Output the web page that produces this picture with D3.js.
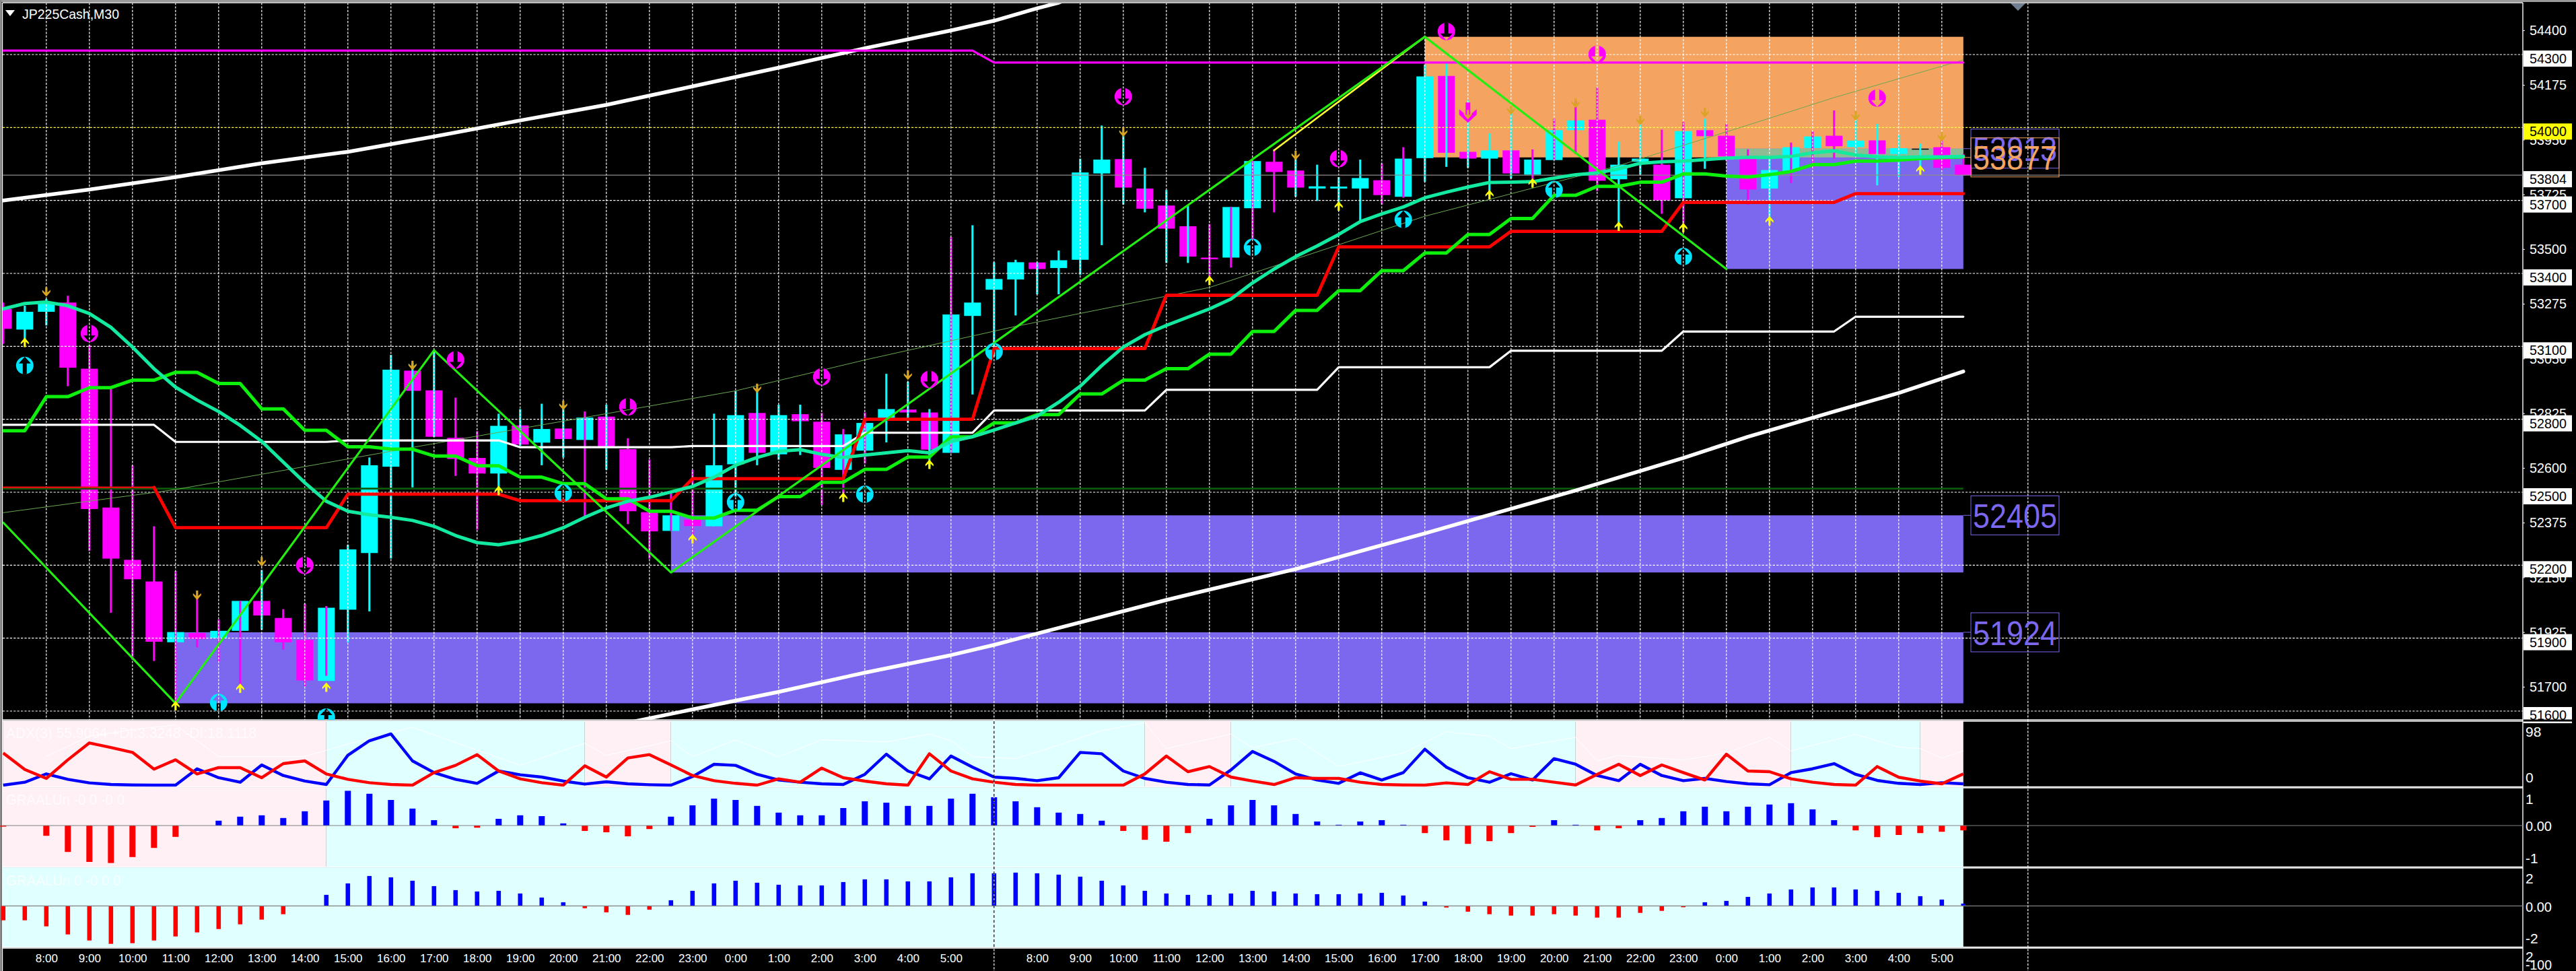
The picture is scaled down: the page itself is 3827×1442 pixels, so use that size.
<!DOCTYPE html>
<html>
<head>
<meta charset="utf-8">
<title>JP225Cash,M30</title>
<script src="https://cdn.jsdelivr.net/npm/d3@7"></script>
<style>
html,body{margin:0;padding:0;background:#000;overflow:hidden}
svg{display:block}
text{font-family:"Liberation Sans",Arial,sans-serif}
</style>
</head>
<body>
<script>
// ---------- data ----------
const opens=[53254,53169,53242,53280,53008,52437,52222,52133,51883,51921,51900,51930,52053,51983,51893,51724,52017,52250,52605,53000,52919,52724,52641,52577,52775,52704,52762,52715,52811,52677,52418,52341,52388,52360,52615,52826,52656,52821,52790,52592,52671,52804,52840,52828,52662,53225,53333,53375,53445,53422,53456,53811,53870,53749,53679,53594,53465,53465,53668,53859,53823,53749,53749,53749,53783,53715,53874,54212,53900,53872,53906,53806,53866,53989,54032,53787,53859,53847,53709,53989,53966,53872,53749,53821,53915,53966,53919,53947,53891,53913,53919,53847];
const highs=[53280,53267,53295,53308,53106,52927,52611,52360,52176,52066,51976,52053,52180,52019,52042,52032,52284,52643,53065,53031,53083,52889,52751,52823,52842,52864,52860,52832,52860,52722,52634,52505,52592,52823,52917,52917,52860,52860,52826,52760,52828,52987,52955,52842,53550,53598,53446,53456,53446,53494,53872,54008,53966,53834,53743,53679,53603,53673,53862,53910,53872,53847,53796,53868,53853,53919,54259,54269,54112,53976,54080,53910,54036,54108,54165,53942,54014,53991,54023,54036,54015,53910,53881,53938,53985,54070,54051,54015,53970,53934,53947,53891];
const lows=[53110,53125,53186,52936,52259,52004,51811,51806,51632,51862,51802,51707,51934,51853,51702,51745,51883,52010,52227,52520,52728,52567,52346,52501,52690,52611,52643,52397,52592,52369,52227,52341,52293,52360,52482,52611,52634,52653,52448,52492,52618,52705,52785,52605,52662,52902,53059,53227,53314,53314,53394,53516,53683,53651,53443,53443,53380,53424,53541,53651,53715,53698,53683,53617,53683,53711,53777,53838,53834,53721,53790,53758,53866,53891,53739,53588,53806,53645,53588,53830,53862,53683,53617,53772,53830,53872,53881,53762,53796,53825,53825,53802];
const closes=[53172,53242,53276,53012,52431,52227,52142,51885,51925,51896,51930,52053,51993,51883,51726,52025,52265,52611,53004,52917,52728,52637,52577,52773,52696,52760,52719,52807,52687,52422,52339,52405,52361,52611,52817,52662,52817,52792,52600,52738,52785,52842,52828,52675,53231,53280,53377,53446,53418,53454,53815,53868,53753,53666,53584,53469,53458,53673,53862,53817,53753,53758,53757,53792,53722,53872,54210,53896,53872,53906,53811,53868,53989,54029,53781,53847,53872,53700,53985,53964,53881,53745,53825,53919,53963,53923,53946,53891,53915,53913,53834,53804];
const wickTones="mccmmmmmmmmmcmmmcccccmmcccc"+"mcmmmmccccc"+"mmmcccmcccccccccccmmmmcccc"+"mmccc"+"ccmmmmccmmcmmcmmmcccc"+"mmmmm";
const wickKeys=[...wickTones];

const tealMA=[53254,53276,53282,53267,53235,53178,53097,53008,52932,52879,52832,52775,52709,52624,52539,52463,52422,52407,52397,52384,52360,52322,52293,52284,52299,52322,52354,52397,52435,52463,52479,52501,52524,52562,52611,52643,52668,52675,52656,52643,52653,52662,52671,52662,52709,52728,52756,52785,52813,52870,52936,53021,53097,53148,53186,53220,53254,53295,53361,53418,53469,53513,53560,53613,53645,53673,53711,53734,53755,53774,53775,53777,53792,53806,53813,53830,53853,53859,53862,53868,53874,53877,53877,53881,53896,53904,53887,53879,53877,53879,53879,53881];
const greenSteps=[52753,52753,52893,52893,52930,52930,52961,52961,52993,52993,52947,52947,52843,52843,52755,52755,52687,52687,52677,52677,52649,52649,52609,52609,52562,52562,52535,52535,52473,52473,52422,52422,52394,52394,52426,52426,52482,52482,52541,52541,52594,52594,52645,52645,52728,52728,52785,52785,52819,52819,52904,52904,52961,52961,53008,53008,53068,53068,53161,53161,53248,53248,53329,53329,53411,53411,53484,53484,53560,53560,53626,53626,53721,53721,53758,53758,53775,53775,53809,53809,53800,53796,53806,53819,53847,53847,53862,53862,53866,53872,53876,53879];

const stepStarts=[0,8,16,24,32,40,46,54,62,70,78,86];
const stepEnds=[7,15,23,31,39,45,53,61,69,77,85,91];
const redLevels=[52520,52354,52492,52465,52556,52800,53091,53310,53509,53573,53692,53728];
const whiteLevels=[52777,52707,52713,52685,52690,52745,52836,52921,53014,53082,53161,53222];

const upperBandIdx=[0,4,8,12,16,20,24,28,32,36,40,44,46,48,49,50];
const upperBandVal=[53700,53745,53796,53853,53900,53963,54029,54093,54169,54246,54326,54399,54439,54490,54513,54550];
const lowerBandIdx=[29,32,36,40,44,46,48,54,60,66,69,73,78,81,85,88,91];
const lowerBandVal=[51552,51607,51679,51758,51830,51872,51919,52057,52184,52331,52407,52507,52641,52728,52832,52908,52997];
const magentaIdx=[0,45,46,91];
const magentaVal=[54316,54316,54267,54267];
const zigzagIdx=[0,8,20,31,66,80];
const zigzagVal=[52375,51632,53084,52170,54373,53418];
const yellowIdx=[59,66];
const yellowVal=[53906,54373];
const trendIdx=[0,8,20,28,34,40,47,56,66,75,81,85,91];
const trendVal=[52416,52511,52700,52823,52917,53044,53182,53342,53635,53843,54010,54123,54278];
const darkGreenLevel=52515;
const bidPrice=53804;

// zones: start bar, top price, bottom price, colour
const zoneStart=[8,31,66,80];
const zoneTop=[51924,52405,54373,53913];
const zoneBottom=[51632,52170,53877,53418];
const zoneColor=["#7b68ee","#7b68ee","#f4a460","#7b68ee"];
const zoneLabels=[51924,52405,53913,53877];
const zoneLabelColor=["#7b68ee","#7b68ee","#7b68ee","#f4a460"];

const orangeIdx=[2,9,12,19,26,35,42,52,60,68,70,73,76,79,86,90];
const orangeVal=[53324,52076,52214,53021,52857,52927,52981,53981,53885,54053,54072,54100,54029,54061,54048,53963];
const yellowUpIdx=[1,8,11,15,23,32,39,43,56,62,69,71,75,78,82,89];
const yellowUpVal=[53116,51622,51694,51698,52507,52308,52479,52615,53371,53677,53724,53772,53594,53588,53617,53825];
const cyanRingIdx=[1,10,15,26,34,40,46,58,65,72,78];
const cyanRingVal=[53021,51635,51575,52497,52460,52492,53078,53507,53622,53745,53469];
const magentaRingIdx=[4,14,21,29,38,43,52,62,67,74,87];
const magentaRingVal=[53153,52199,53044,52851,52974,52964,54127,53872,54395,54301,54121];
const bigDownIdx=[68];
const bigDownVal=[54061];

const plusDI=[0,4.5,17.4,9,3.5,1,.3,0,0,25.3,11.5,4.5,31.2,14.9,6.3,1,46.2,68.7,79.2,37.5,19.4,9,2.8,21.9,16,12.5,6.3,1.7,5.2,2.1,.7,0,13.2,32.3,30.6,16.7,8,4.5,2.1,1,16.7,47.9,21.9,9.7,45.1,27.8,12.5,10.4,6.9,11.5,50.7,48.6,21.9,10.4,4.5,1,.3,23.6,52.1,36.8,17.4,8,2.8,19.1,8,19.4,55.6,27.8,11.5,4.5,17.7,8,41,32.3,14.9,6.9,32.3,14.9,6.9,10.4,5.6,2.1,.7,19.4,25.3,33.3,16.7,7.3,2.8,1,3.8,2.1];
const minusDI=[49.7,24.3,10.4,39.2,65.3,58.3,50.7,24.7,39.2,17.4,27.1,27.1,11.5,33.3,37.5,17.4,9,3.8,1,0,19.4,30.6,47.2,21.9,9.7,3.8,0,29.9,12.5,42,47.2,31.2,14.9,6.9,2.8,0,9.7,4.5,26.4,11.5,6.3,2.1,0,48.6,21.9,9.7,4.5,1,0,0,0,0,0,17.4,45.1,20.8,28.8,12.5,6.3,1,11.5,10.4,10.4,4.5,1,.3,0,3.5,1,20.8,9,9,4.5,.3,16.7,32.3,14.9,31.2,19.4,8,47.9,21.9,20.8,9.7,4.5,1,0,28.8,12.2,6.3,2.1,17.4];
const adxIdx=[2,4,6,8,10,13,14,16,19,24,27,28,31,32,34,36,38,41,43,44,45,47,49,51,53,54,57,58,60,62,65,67,69,70,73,74,75,78,80,82,83,86,88,89,90,91];
const adxVal=[44.4,75.7,86,93,44.4,44.4,44.4,63.5,89.6,30.6,65,46,68.7,44,70,44,70,67,79,68.7,44,41,61.8,84.4,96.5,56.6,79,58,72,29,49.7,82.6,75.7,56.6,74,37.5,46,39,49.7,74,53,78.5,59,56.6,41.7,53];

const graalA=[-.04,0,-.38,-.98,-1.35,-1.39,-1.17,-.83,-.42,0,.18,.33,.38,.28,.53,.93,1.29,1.18,.95,.63,.2,-.1,-.08,.25,.38,.35,.08,-.2,-.25,-.4,-.13,.33,.75,1,.95,.73,.48,.38,.38,.65,.9,.85,.73,.73,1,1.18,1.05,.9,.68,.48,.43,.18,-.2,-.53,-.6,-.28,.25,.75,.95,.75,.43,.15,.03,.15,.2,.03,-.28,-.55,-.68,-.58,-.28,-.05,.2,.03,-.18,-.1,.2,.28,.53,.7,.53,.7,.78,.83,.6,.2,-.18,-.43,-.35,-.28,-.23,-.18];
const graalB=[-1.07,-1.07,-1.52,-2.12,-2.57,-2.82,-2.77,-2.57,-2.27,-1.97,-1.72,-1.37,-1.02,-.62,0,.82,1.67,2.22,2.12,1.87,1.47,1.17,1.07,1.12,.92,.62,.27,-.17,-.48,-.67,-.28,.42,1.12,1.67,1.87,1.72,1.57,1.52,1.52,1.77,1.97,1.97,1.82,1.82,2.12,2.42,2.42,2.47,2.42,2.32,2.17,1.87,1.52,1.12,.92,.82,.82,.92,1.12,1.07,.92,.87,.87,.92,.97,.77,.32,-.12,-.43,-.62,-.72,-.72,-.62,-.72,-.87,-.87,-.52,-.37,-.1,.27,.37,.67,.92,1.22,1.37,1.37,1.22,1.12,.97,.72,.47,.17];

const adxBandStart=[0,15,27,31,53,57,73,83,89];
const adxBandEnd=[15,27,31,53,57,73,83,89,91];
const adxBandKind=["p","c","p","c","p","c","p","c","p"];

const gridPrices=[54300,54000,53700,53400,53100,52800,52500,52200,51900,51600];
const plainPrices=[54400,54175,53950,53725,53500,53275,53050,52825,52600,52375,52150,51925,51700];
const boxedPrices=[54300,54000,53804,53700,53400,53100,52800,52500,52200,51900,51600];

const hourBars=[2,4,6,8,10,12,14,16,18,20,22,24,26,28,30,32,34,36,38,40,42,44,48,50,52,54,56,58,60,62,64,66,68,70,72,74,76,78,80,82,84,86,88,90];
const hourLabels=["8:00","9:00","10:00","11:00","12:00","13:00","14:00","15:00","16:00","17:00","18:00","19:00","20:00","21:00","22:00","23:00","0:00","1:00","2:00","3:00","4:00","5:00","8:00","9:00","10:00","11:00","12:00","13:00","14:00","15:00","16:00","17:00","18:00","19:00","20:00","21:00","22:00","23:00","0:00","1:00","2:00","3:00","4:00","5:00"];
const gridBars=[...d3.range(2,91,2),94];
const separatorBars=[46,94];

// ---------- layout ----------
const W=3827,H=1442,L=4,R=3748,T=4;
const MAIN_B=1069, P2_T=1071,P2_B=1168.5, P3_T=1170,P3_B=1287.5, P4_T=1289,P4_B=1406.5, AX_T=1408;
const CYAN="#00ffff",MAG="#ff00ff",BG_P="#fff0f5",BG_C="#e0ffff",BAR_R="#ff0000",BAR_B="#0000ff";

const x=d3.scaleLinear().domain([0,91]).range([4.8,2916.8]);
const y=d3.scaleLinear().domain([54300,51600]).range([81,1056]);
const yDI=d3.scaleLinear().domain([0,100]).range([1166,1070]);
const yA=d3.scaleLinear().domain([0,1]).range([1226,1186]);
const yB=d3.scaleLinear().domain([0,2]).range([1345.3,1305.3]);
const dataEnd=x(91);

const svg=d3.select("body").append("svg").attr("width",W).attr("height",H).attr("viewBox",`0 0 ${W} ${H}`);
svg.append("rect").attr("width",W).attr("height",H).attr("fill","#000");
const defs=svg.append("defs");
defs.append("clipPath").attr("id","mainClip").append("rect").attr("x",L).attr("y",T+1).attr("width",R-L).attr("height",MAIN_B-T-1);
defs.append("clipPath").attr("id","p2Clip").append("rect").attr("x",L).attr("y",P2_T).attr("width",R-L).attr("height",P2_B-P2_T);

// chrome
svg.append("rect").attr("x",0).attr("y",0).attr("width",W).attr("height",3).attr("fill","#9a9a9a");
svg.append("rect").attr("x",0).attr("y",0).attr("width",2.5).attr("height",H).attr("fill","#8a8a8a");
const chrome=svg.append("g").attr("stroke","#fff").attr("stroke-width",1.4);
[T,MAIN_B,P2_T,P2_B,P3_T,P3_B,P4_T,P4_B,AX_T].forEach(v=>chrome.append("line").attr("x1",L).attr("x2",R).attr("y1",v).attr("y2",v));
chrome.append("line").attr("x1",R).attr("x2",R).attr("y1",T).attr("y2",H);
chrome.append("line").attr("x1",L-.5).attr("x2",L-.5).attr("y1",T).attr("y2",H);

// main pane
const main=svg.append("g").attr("clip-path","url(#mainClip)");

// zones
zoneStart.forEach((s,i)=>{
  main.append("rect").attr("x",x(s)).attr("width",dataEnd-x(s))
    .attr("y",y(zoneTop[i])).attr("height",y(zoneBottom[i])-y(zoneTop[i])).attr("fill",zoneColor[i]);
});
// overlap of the orange and the upper violet zone
main.append("rect").attr("x",x(80)).attr("width",dataEnd-x(80)).attr("y",y(53913)).attr("height",y(53877)-y(53913)).attr("fill","#8dbb93");

// candles
const bars=d3.range(opens.length);
const bodyColor=i=>closes[i]>opens[i]?CYAN:closes[i]<opens[i]?MAG:"#000";
main.append("g").selectAll("rect").data(bars).join("rect")
  .attr("x",i=>x(i)-12.5).attr("width",25)
  .attr("y",i=>y(Math.max(opens[i],closes[i])))
  .attr("height",i=>Math.max(1.5,Math.abs(y(opens[i])-y(closes[i]))))
  .attr("fill",bodyColor);
main.append("g").selectAll("line").data(bars).join("line")
  .attr("x1",i=>x(i)).attr("x2",i=>x(i)).attr("y1",i=>y(highs[i])).attr("y2",i=>y(lows[i]))
  .attr("stroke",i=>wickKeys[i]==="c"?CYAN:MAG).attr("stroke-width",3.2);

// grid
const grid=main.append("g");
grid.selectAll("line.h").data(gridPrices).join("line").attr("class","h")
  .attr("x1",L).attr("x2",R).attr("y1",d=>y(d)).attr("y2",d=>y(d))
  .attr("stroke",d=>d===54000?"#ffff44":"#fff").attr("stroke-width",1.2).attr("stroke-dasharray","3.2 2.2");
grid.selectAll("line.v").data(gridBars).join("line").attr("class","v")
  .attr("x1",d=>x(d)).attr("x2",d=>x(d)).attr("y1",T).attr("y2",MAIN_B)
  .attr("stroke","#fff").attr("stroke-width",1.2).attr("stroke-dasharray","3.2 2.2");
grid.append("line").attr("x1",L).attr("x2",R).attr("y1",y(bidPrice)).attr("y2",y(bidPrice)).attr("stroke","#8c8c8c").attr("stroke-width",1.2);
grid.append("line").attr("x1",L).attr("x2",dataEnd).attr("y1",y(darkGreenLevel)).attr("y2",y(darkGreenLevel)).attr("stroke","#0b5a0b").attr("stroke-width",2.6);

// lines
const priceLine=d3.line().x(d=>x(d[0])).y(d=>y(d[1]));
const zipped=(ix,vs)=>ix.map((k,i)=>[k,vs[i]]);
const stepped=lv=>lv.flatMap((v,i)=>[[stepStarts[i],v],[stepEnds[i],v]]);
function draw(pts,color,w){
  main.append("path").attr("d",priceLine(pts)).attr("fill","none").attr("stroke",color)
    .attr("stroke-width",w).attr("stroke-linejoin","round").attr("stroke-linecap","round");
}
draw(zipped(trendIdx,trendVal),"#6aa84f",1);
draw(zipped(upperBandIdx,upperBandVal),"#fff",5.5);
draw(zipped(lowerBandIdx,lowerBandVal),"#fff",5.5);
draw(zipped(magentaIdx,magentaVal),MAG,3.2);
draw(stepped(whiteLevels),"#fff",3.2);
draw(stepped(redLevels).slice(0,2),"#e01010",2.4);
draw(stepped(redLevels).slice(1),"#ff0000",4.8);
draw(greenSteps.map((v,i)=>[i,v]),"#0cf00c",5);
draw(tealMA.map((v,i)=>[i,v]),"#12eaa0",5);
draw(zipped(yellowIdx,yellowVal),"#ffff33",2.6);
draw(zipped(zigzagIdx,zigzagVal),"#22ee11",3.2);

// markers
const upArrow="M0,-7 L6,0 L6,3 L1.6,-1 L1.6,7 L-1.6,7 L-1.6,-1 L-6,3 L-6,0 Z";
const downArrow="M0,7 L6,0 L6,-3 L1.6,1 L1.6,-7 L-1.6,-7 L-1.6,1 L-6,-3 L-6,0 Z";
const disc="M-13,0 A13,13 0 1,1 13,0 A13,13 0 1,1 -13,0 Z ";
const ringDown=disc+"M-3,-13 L3,-13 L3,3 L9,3 L0,13 L-9,3 L-3,3 Z";
const ringUp=disc+"M-3,13 L3,13 L3,-3 L9,-3 L0,-13 L-9,-3 L-3,-3 Z";
const bigDown="M-3.5,-15 H3.5 V3 L13,-5 V3 L0,15 L-13,3 V-5 L-3.5,3 Z";
function marks(ix,vs,path,color){
  main.append("g").selectAll("path").data(ix.map((k,i)=>[k,vs[i]])).join("path")
    .attr("d",path).attr("fill",color).attr("fill-rule","evenodd")
    .attr("transform",d=>`translate(${x(d[0])},${y(d[1])})`);
}
marks(bigDownIdx,bigDownVal,bigDown,MAG);
marks(orangeIdx,orangeVal,downArrow,"#daa520");
marks(yellowUpIdx,yellowUpVal,upArrow,"#ffff00");
marks(cyanRingIdx,cyanRingVal,ringUp,"#00e5ff");
marks(magentaRingIdx,magentaRingVal,ringDown,MAG);

// zone labels
zoneLabels.forEach((v,i)=>{
  const c=y(v), col=zoneLabelColor[i];
  svg.append("line").attr("x1",dataEnd).attr("x2",2928).attr("y1",c).attr("y2",c).attr("stroke",col).attr("stroke-width",1);
  svg.append("rect").attr("x",2928).attr("y",c-29).attr("width",131).attr("height",58).attr("fill","none").attr("stroke",col).attr("stroke-width",1);
  svg.append("text").attr("x",2931).attr("y",c+18.5).attr("font-size",50).attr("fill",col)
    .attr("textLength",125).attr("lengthAdjust","spacingAndGlyphs").text(v);
});

// title
svg.append("path").attr("d",d3.line()([[8,15],[22,15],[15,24]])+"Z").attr("fill","#fff");
svg.append("text").attr("x",33).attr("y",27.5).attr("font-size",21).attr("fill","#fff")
  .attr("textLength",144).attr("lengthAdjust","spacingAndGlyphs").text("JP225Cash,M30");
svg.append("path").attr("d",d3.line()([[2987,5],[3009,5],[2998,16]])+"Z").attr("fill","#708090");

// lower pane backgrounds
adxBandStart.forEach((s,i)=>{
  svg.append("rect").attr("x",x(s)).attr("width",x(adxBandEnd[i])-x(s)).attr("y",P2_T-.7).attr("height",P2_B-P2_T+.4)
    .attr("fill",adxBandKind[i]==="p"?BG_P:BG_C);
});
svg.append("rect").attr("x",L).attr("width",x(0)-L).attr("y",P2_T-.7).attr("height",P2_B-P2_T+.4).attr("fill",BG_P);
svg.append("rect").attr("x",L).attr("width",x(15)-L).attr("y",P3_T-.7).attr("height",P3_B-P3_T+.4).attr("fill",BG_P);
svg.append("rect").attr("x",x(15)).attr("width",dataEnd-x(15)).attr("y",P3_T-.7).attr("height",P3_B-P3_T+.4).attr("fill",BG_C);
svg.append("rect").attr("x",L).attr("width",dataEnd-L).attr("y",P4_T-.7).attr("height",P4_B-P4_T+.4).attr("fill",BG_C);

// ADX
const p2=svg.append("g").attr("clip-path","url(#p2Clip)");
const diLine=d3.line().x(d=>x(d[0])).y(d=>yDI(d[1]));
p2.append("path").attr("d",diLine(zipped(adxIdx,adxVal))).attr("fill","none").attr("stroke","#fff").attr("stroke-width",1);
p2.append("path").attr("d",diLine(plusDI.map((v,i)=>[i,v]))).attr("fill","none").attr("stroke",BAR_B).attr("stroke-width",4.4).attr("stroke-linejoin","round");
p2.append("path").attr("d",diLine(minusDI.map((v,i)=>[i,v]))).attr("fill","none").attr("stroke",BAR_R).attr("stroke-width",4.4).attr("stroke-linejoin","round");

// histograms
function hist(vals,scale,w){
  const z=scale(0);
  svg.append("g").selectAll("rect").data(vals.map((v,i)=>[i,v]).filter(d=>d[1]!==0)).join("rect")
    .attr("x",d=>x(d[0])-w/2).attr("width",w)
    .attr("y",d=>Math.min(scale(d[1]),z)).attr("height",d=>Math.abs(scale(d[1])-z))
    .attr("fill",d=>d[1]>0?BAR_B:BAR_R);
  svg.append("line").attr("x1",L).attr("x2",R).attr("y1",z).attr("y2",z).attr("stroke","#808080").attr("stroke-width",1.2);
}
hist(graalA,yA,9);
hist(graalB,yB,6.6);

// faint titles of the lower panes
[["ADX(3) 55.9064 +DI:3.3248 -DI:18.1118",1096,372],["GRAALUn -0 0 -0 0",1195,176],["GRAALUn 0 -0 0 0",1315,170]].forEach(t=>{
  svg.append("text").attr("x",9).attr("y",t[1]).attr("font-size",22).attr("fill","#fff").attr("fill-opacity",.75)
    .attr("textLength",t[2]).attr("lengthAdjust","spacingAndGlyphs").text(t[0]);
});

// period separators through the lower panes
separatorBars.forEach(b=>{
  svg.append("line").attr("x1",x(b)).attr("x2",x(b)).attr("y1",MAIN_B).attr("y2",H)
    .attr("stroke","#fff").attr("stroke-width",1.2).attr("stroke-dasharray","3.2 2.2");
});
svg.append("line").attr("x1",x(46)).attr("x2",x(46)).attr("y1",P2_T).attr("y2",P4_B)
  .attr("stroke","#000").attr("stroke-width",1.2).attr("stroke-dasharray","4 3.2");

// price axis
const priceAxis=d3.axisRight(y).tickValues(plainPrices).tickSize(3).tickPadding(7).tickFormat(d=>d);
const gP=svg.append("g").attr("transform",`translate(${R},0)`).call(priceAxis);
gP.select(".domain").remove();
gP.selectAll("line").attr("stroke","#fff");
gP.selectAll("text").attr("fill","#fff").attr("font-size",21).attr("font-family",'"Liberation Sans",Arial,sans-serif')
  .attr("textLength",55).attr("lengthAdjust","spacingAndGlyphs");
const boxed=svg.append("g").selectAll("g").data(boxedPrices).join("g").attr("transform",d=>`translate(3749,${y(d)-6})`);
boxed.append("rect").attr("width",72).attr("height",24).attr("fill",d=>d===54000?"#ffff00":"#fff");
boxed.append("text").attr("x",9).attr("y",19).attr("font-size",21).attr("fill","#000")
  .attr("textLength",55).attr("lengthAdjust","spacingAndGlyphs").text(d=>d);
// pane separators over the last box
svg.append("rect").attr("x",3749).attr("y",MAIN_B-.5).attr("width",78).attr("height",3).attr("fill","#000");

// lower-pane scale labels
[["98",3752,1094],["0",3752,1162],["1",3752,1194],["0.00",3752,1234],["-1",3752,1282],["2",3752,1312],["0.00",3752,1354],["-2",3752,1401],["2",3752,1428],["-100",3752,1440]].forEach(t=>{
  const el=svg.append("text").attr("x",t[1]).attr("y",t[2]).attr("font-size",21).attr("fill","#fff").text(t[0]);
  if(t[0]==="0.00"||t[0]==="-100") el.attr("textLength",39).attr("lengthAdjust","spacingAndGlyphs");
});

// time axis
const timeAxis=d3.axisBottom(x).tickValues(hourBars).tickSize(0).tickPadding(0).tickFormat(d=>hourLabels[hourBars.indexOf(d)]);
const gT=svg.append("g").attr("transform",`translate(0,${AX_T})`).call(timeAxis);
gT.select(".domain").remove();
gT.selectAll("text").attr("fill","#fff").attr("font-size",17).attr("y",21).attr("dy",0)
  .attr("font-family",'"Liberation Sans",Arial,sans-serif');
</script>
</body>
</html>
